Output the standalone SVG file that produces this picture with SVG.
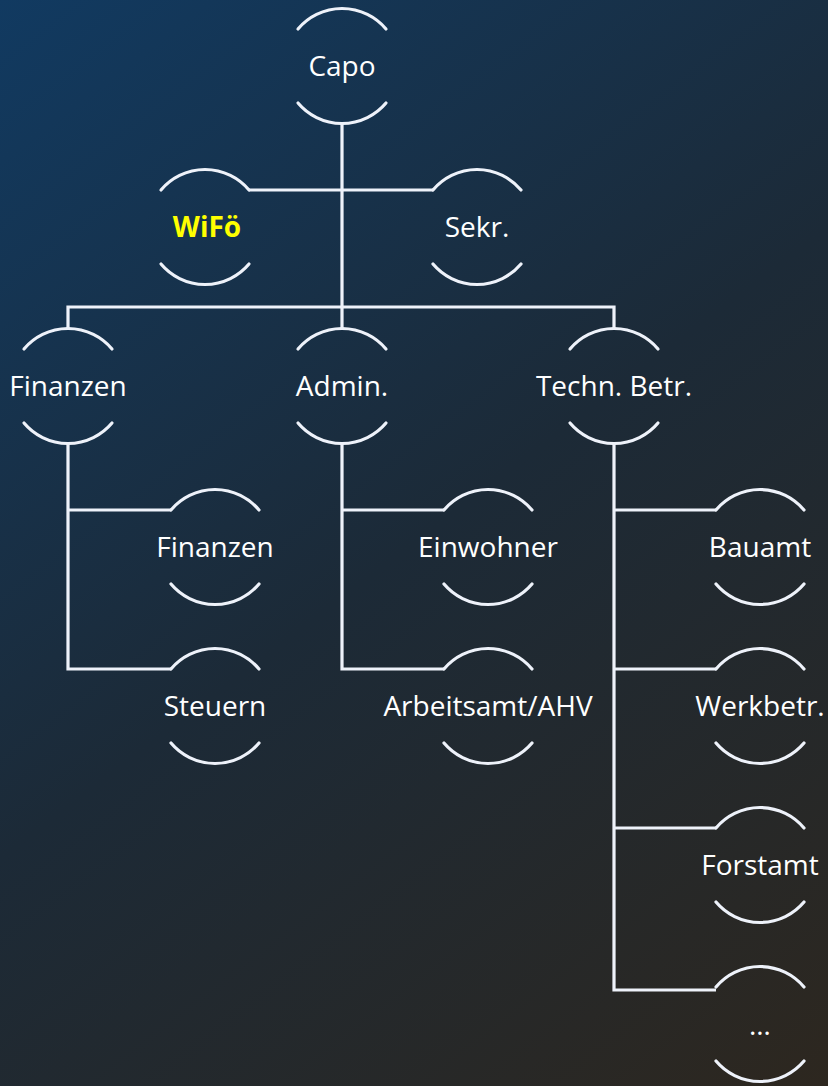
<svg xmlns="http://www.w3.org/2000/svg" width="828" height="1086" viewBox="0 0 828 1086">
<style>
.arc{fill:none;stroke:#eef2fa;stroke-width:3.2;stroke-linecap:round}
.con{fill:none;stroke:#eef2fa;stroke-width:3.2;stroke-linejoin:miter}
text{font-family:"Open Sans","Noto Sans","DejaVu Sans",sans-serif;font-size:28px;fill:#ffffff;text-anchor:middle}
.hl{fill:#ffff00;font-weight:bold}
</style>
<defs>
<linearGradient id="bg" x1="0" y1="0" x2="828" y2="1086" gradientUnits="userSpaceOnUse">
<stop offset="0" stop-color="#113a61"/>
<stop offset="0.5" stop-color="#1c2a37"/>
<stop offset="1" stop-color="#2d271f"/>
</linearGradient>
<g id="ring">
<path class="arc" d="M-44,-37 A57.5,57.5 0 0 1 44,-37"/>
<path class="arc" d="M-44,37 A57.5,57.5 0 0 0 44,37"/>
</g>
</defs>
<rect width="828" height="1086" fill="url(#bg)"/>
<g id="connectors">
<path class="con" d="M342,123 V307"/>
<path class="con" d="M249,190 H433"/>
<path class="con" d="M68,329 V307 H614 V329 M342,307 V329"/>
<path class="con" d="M68,443 V669 H171 M68,510 H171"/>
<path class="con" d="M342,443 V669 H444 M342,510 H444"/>
<path class="con" d="M614,443 V990 H716 M614,510 H716 M614,669 H716 M614,828 H716"/>
</g>
<g id="n-capo"><use href="#ring" x="342" y="66"/><text x="342" y="76">Capo</text></g>
<g id="n-wifo"><use href="#ring" x="205" y="227"/><text class="hl" x="207" y="237">WiFö</text></g>
<g id="n-sekr"><use href="#ring" x="477" y="227"/><text x="477" y="237">Sekr.</text></g>
<g id="n-finanzen"><use href="#ring" x="68" y="386"/><text x="68" y="396">Finanzen</text></g>
<g id="n-admin"><use href="#ring" x="342" y="386"/><text x="342" y="396">Admin.</text></g>
<g id="n-techn"><use href="#ring" x="614" y="386"/><text x="614" y="396">Techn. Betr.</text></g>
<g id="n-finanzen2"><use href="#ring" x="215" y="547"/><text x="215" y="557">Finanzen</text></g>
<g id="n-steuern"><use href="#ring" x="215" y="706"/><text x="215" y="716">Steuern</text></g>
<g id="n-einwohner"><use href="#ring" x="488" y="547"/><text x="488" y="557">Einwohner</text></g>
<g id="n-arbeitsamt"><use href="#ring" x="488" y="706"/><text x="488" y="716">Arbeitsamt/AHV</text></g>
<g id="n-bauamt"><use href="#ring" x="760" y="547"/><text x="760" y="557">Bauamt</text></g>
<g id="n-werkbetr"><use href="#ring" x="760" y="706"/><text x="760" y="716">Werkbetr.</text></g>
<g id="n-forstamt"><use href="#ring" x="760" y="865"/><text x="760" y="875">Forstamt</text></g>
<g id="n-more"><use href="#ring" x="760" y="1024"/><text x="760" y="1035">…</text></g>
</svg>
